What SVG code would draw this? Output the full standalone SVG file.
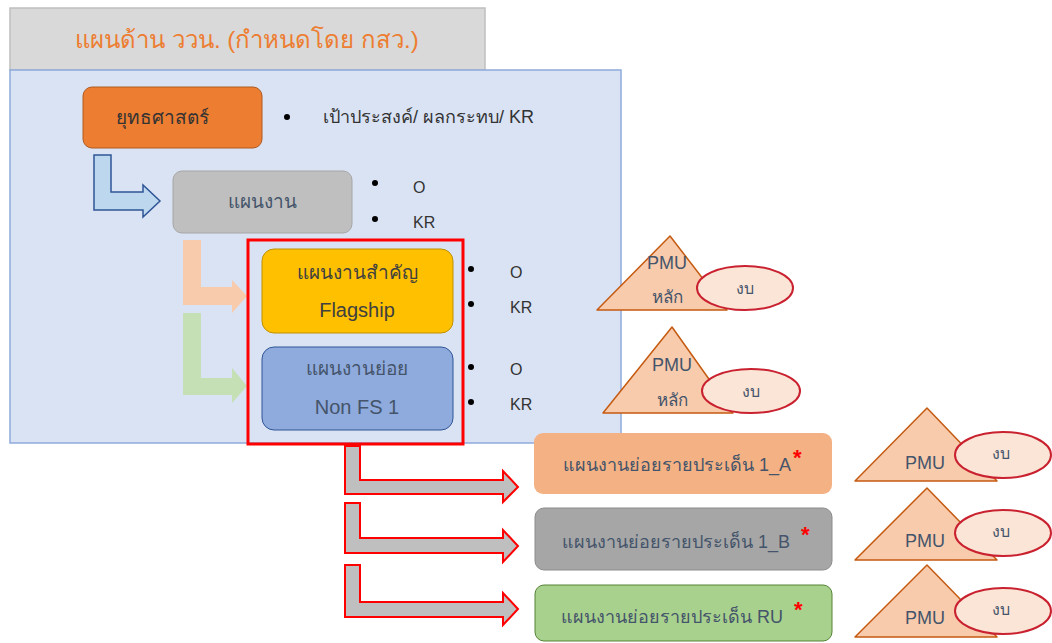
<svg xmlns="http://www.w3.org/2000/svg" width="1052" height="643" viewBox="0 0 1052 643">
<style>
text{font-family:"Liberation Sans","Noto Sans","DejaVu Sans",sans-serif;}
.t{font-size:19px;fill:#44546a;text-anchor:middle;dominant-baseline:central;}
.s{font-size:18px;}
.b{font-size:16px;fill:#333;dominant-baseline:central;}
.ast{font-size:22px;fill:#ff0000;font-weight:bold;}
.tri{fill:#f8cbad;stroke:#c55a11;stroke-width:1.5;stroke-linejoin:round;}
.ell{fill:#fbe5d6;stroke:#c9212f;stroke-width:2;}
.garr{fill:#bfbfbf;stroke:#ff0000;stroke-width:2;}
</style>
<rect width="1052" height="643" fill="#ffffff"/>
<g id="header">
<rect x="10" y="8" width="475" height="62" fill="#d9d9d9" stroke="#bfbfbf" stroke-width="1.5"/>
<text x="247" y="39" font-size="24" fill="#ed7d31" text-anchor="middle" dominant-baseline="central">แผนด้าน ววน. (กำหนดโดย กสว.)</text>
</g>
<g id="panel">
<rect x="10" y="70" width="611" height="373" fill="#dae3f3" stroke="#8faadc" stroke-width="1.5"/>
</g>
<g id="connectors">
<polygon points="94,155 111,155 111,192 143,192 143,185 160,201 143,217 143,210 94,210" fill="#bdd7ee" stroke="#2f5597" stroke-width="1.5"/>
<polygon points="183,240 201,240 201,287 232,287 232,280 247,296 232,313 232,305 183,305" fill="#f8cbad"/>
<polygon points="183,313 201,313 201,378 232,378 232,368 247,386 232,403 232,395 183,395" fill="#c5e0b4"/>
<polygon class="garr" points="345,446 360,446 360,480 503,480 503,471 518,487 503,502 503,494 345,494"/>
<polygon class="garr" points="345,503 360,503 360,538 503,538 503,530 518,546 503,562 503,553 345,553"/>
<polygon class="garr" points="345,565 360,565 360,602 503,602 503,593 518,609 503,625 503,617 345,617"/>
</g>
<g id="strategy">
<rect x="83" y="87" width="179" height="61" rx="9" fill="#ed7d31" stroke="#ae5a21" stroke-width="1"/>
<text class="t" x="162" y="117" style="fill:#333">ยุทธศาสตร์</text>
<circle cx="287" cy="117" r="3" fill="#000"/>
<text class="b" x="323" y="117" style="font-size:18px">เป้าประสงค์/ ผลกระทบ/ KR</text>
</g>
<g id="plan">
<rect x="173" y="171" width="179" height="62" rx="9" fill="#bfbfbf" stroke="#a6a6a6" stroke-width="1"/>
<text class="t" x="262" y="201">แผนงาน</text>
<circle cx="375" cy="183" r="3" fill="#000"/>
<circle cx="375" cy="219" r="3" fill="#000"/>
<text class="b" x="413" y="187">O</text>
<text class="b" x="413" y="222">KR</text>
</g>
<g id="highlight">
<rect x="248" y="240" width="215" height="204" fill="none" stroke="#ff0000" stroke-width="3"/>
</g>
<g id="flagship">
<rect x="262" y="249" width="191" height="84" rx="12" fill="#ffc000" stroke="#bf9000" stroke-width="1"/>
<text class="t" x="357" y="272" style="fill:#404040">แผนงานสำคัญ</text>
<text class="t" x="357" y="310" style="fill:#404040;font-size:20px">Flagship</text>
<circle cx="471" cy="269" r="3" fill="#000"/>
<circle cx="471" cy="304" r="3" fill="#000"/>
<text class="b" x="510" y="272">O</text>
<text class="b" x="510" y="307">KR</text>
</g>
<g id="nonfs">
<rect x="262" y="347" width="191" height="83" rx="12" fill="#8faadc" stroke="#2f5597" stroke-width="1"/>
<text class="t" x="357" y="368">แผนงานย่อย</text>
<text class="t" x="357" y="407" style="font-size:20px">Non FS 1</text>
<circle cx="471" cy="367" r="3" fill="#000"/>
<circle cx="471" cy="402" r="3" fill="#000"/>
<text class="b" x="510" y="369">O</text>
<text class="b" x="510" y="404">KR</text>
</g>
<g id="pmu1">
<polygon class="tri" points="670,236 727,310 597,310"/>
<text class="t s" x="667" y="263">PMU</text>
<text class="t" x="667" y="297" style="font-size:17px">หลัก</text>
<ellipse class="ell" cx="745" cy="288" rx="48" ry="22"/>
<text class="t" x="745" y="288" style="font-size:16px">งบ</text>
</g>
<g id="pmu2">
<polygon class="tri" points="672,327 733,413 603,413"/>
<text class="t s" x="672" y="365">PMU</text>
<text class="t" x="672" y="400" style="font-size:17px">หลัก</text>
<ellipse class="ell" cx="751" cy="391" rx="49" ry="22"/>
<text class="t" x="751" y="391" style="font-size:16px">งบ</text>
</g>
<g id="sub1a">
<rect x="534" y="433" width="298" height="61" rx="9" fill="#f4b183"/>
<text class="t s" x="677" y="465">แผนงานย่อยรายประเด็น 1_A</text>
<text class="ast" x="793" y="465">*</text>
</g>
<g id="sub1b">
<rect x="535" y="508" width="297" height="62" rx="9" fill="#a6a6a6" stroke="#8c8c8c" stroke-width="1"/>
<text class="t s" x="676" y="542">แผนงานย่อยรายประเด็น 1_B</text>
<text class="ast" x="801" y="542">*</text>
</g>
<g id="subru">
<rect x="535" y="585" width="297" height="56" rx="9" fill="#a9d18e" stroke="#548235" stroke-width="1"/>
<text class="t s" x="672" y="617">แผนงานย่อยรายประเด็น RU</text>
<text class="ast" x="794" y="617">*</text>
</g>
<g id="pmu3">
<polygon class="tri" points="927,408 997,481 855,481"/>
<text class="t s" x="925" y="463">PMU</text>
<ellipse class="ell" cx="1003" cy="455" rx="48" ry="23"/>
<text class="t" x="1001" y="453" style="font-size:16px">งบ</text>
</g>
<g id="pmu4">
<polygon class="tri" points="927,488 997,560 855,560"/>
<text class="t s" x="925" y="541">PMU</text>
<ellipse class="ell" cx="1003" cy="533" rx="48" ry="23"/>
<text class="t" x="1001" y="531" style="font-size:16px">งบ</text>
</g>
<g id="pmu5">
<polygon class="tri" points="927,565 997,637 855,637"/>
<text class="t s" x="925" y="618">PMU</text>
<ellipse class="ell" cx="1003" cy="611" rx="48" ry="23"/>
<text class="t" x="1001" y="609" style="font-size:16px">งบ</text>
</g>
</svg>
